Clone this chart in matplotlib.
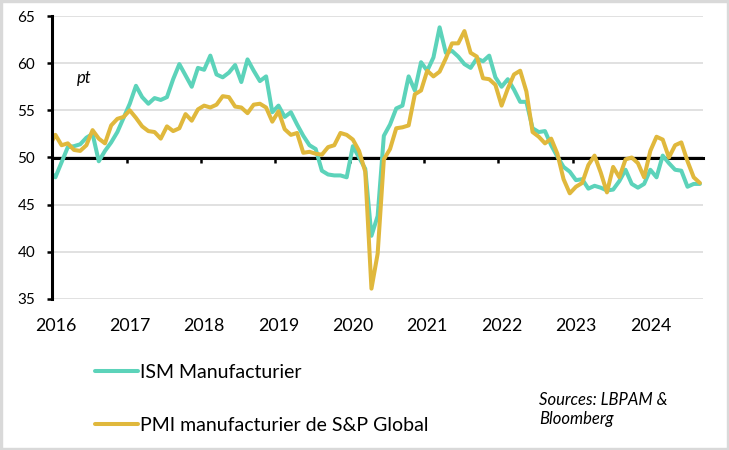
import numpy as np
import matplotlib
matplotlib.use('Agg')
import matplotlib.pyplot as plt
from matplotlib.lines import Line2D
from matplotlib.patches import Rectangle

# ---- data (monthly, Dec 2015 -> Sep 2024) ----
years = ['2016', '2017', '2018', '2019', '2020', '2021', '2022', '2023', '2024']
series_names = ['ISM Manufacturier', 'PMI manufacturier de S&P Global']

ism = [48.6,
       47.9, 49.5, 51.1, 51.2, 51.4, 52.1, 52.5, 49.6, 50.7, 51.6, 52.7, 54.2,
       55.7, 57.6, 56.4, 55.7, 56.3, 56.1, 56.4, 58.3, 59.9, 58.7, 57.5, 59.5,
       59.3, 60.8, 58.8, 58.5, 59.0, 59.8, 58.0, 60.4, 59.2, 58.1, 58.6, 54.8,
       55.5, 54.3, 54.8, 53.5, 52.3, 51.3, 50.9, 48.6, 48.2, 48.1, 48.1, 47.9,
       51.2, 50.0, 48.8, 41.7, 43.8, 52.3, 53.5, 55.2, 55.5, 58.6, 57.1, 60.1,
       59.2, 60.6, 63.8, 61.1, 61.3, 60.7, 59.9, 59.5, 60.5, 60.2, 60.8, 58.5,
       57.5, 58.3, 57.2, 55.9, 55.9, 53.1, 52.7, 52.8, 51.3, 50.1, 49.0, 48.5,
       47.6, 47.7, 46.7, 47.0, 46.8, 46.5, 46.6, 47.5, 48.7, 47.2, 46.8, 47.2,
       48.7, 47.9, 50.2, 49.4, 48.7, 48.6, 46.9, 47.2, 47.2]

pmi = [51.2,
       52.4, 51.3, 51.5, 50.8, 50.7, 51.3, 52.9, 52.0, 51.5, 53.4, 54.1, 54.3,
       55.0, 54.2, 53.3, 52.8, 52.7, 52.0, 53.3, 52.8, 53.1, 54.6, 53.9, 55.1,
       55.5, 55.3, 55.6, 56.5, 56.4, 55.4, 55.3, 54.7, 55.6, 55.7, 55.3, 53.8,
       54.9, 53.0, 52.4, 52.6, 50.5, 50.6, 50.4, 50.3, 51.1, 51.3, 52.6, 52.4,
       51.9, 50.7, 48.5, 36.1, 39.8, 49.8, 50.9, 53.1, 53.2, 53.4, 56.7, 57.1,
       59.2, 58.6, 59.1, 60.5, 62.1, 62.1, 63.4, 61.1, 60.7, 58.4, 58.3, 57.7,
       55.5, 57.3, 58.8, 59.2, 57.0, 52.7, 52.2, 51.5, 52.0, 50.4, 47.7, 46.2,
       46.9, 47.3, 49.2, 50.2, 48.4, 46.3, 49.0, 47.9, 49.8, 50.0, 49.4, 47.9,
       50.7, 52.2, 51.9, 50.0, 51.3, 51.6, 49.6, 47.9, 47.3]

teal = '#5CD3BA'
gold = '#E0B83C'

plt.rcParams['font.family'] = ['Lato', 'DejaVu Sans']

W, H = 729, 450
fig = plt.figure(figsize=(W / 100, H / 100), dpi=100)
ax = fig.add_axes([52.3 / W, 1 - 299 / H, (703 - 52.3) / W, 283 / H])

# month centres: Dec 2015 at -0.5, Jan 2016 at 0.5, ...
x = np.arange(len(ism)) - 0.5
ax.plot(x, ism, color=teal, lw=2.9, solid_joinstyle='round', solid_capstyle='round', zorder=3)
ax.plot(x, pmi, color=gold, lw=2.9, solid_joinstyle='round', solid_capstyle='round', zorder=3.1)

ax.set_xlim(0, len(ism) - 1)
ax.set_ylim(35, 65)
ax.set_yticks(np.arange(35, 66, 5))
ax.yaxis.grid(True, color='#D9D9D9', lw=1.1)
ax.set_axisbelow(True)

for s in ['top', 'right']:
    ax.spines[s].set_visible(False)
ax.spines['left'].set_linewidth(2.2)
ax.spines['left'].set_zorder(4)
ax.spines['bottom'].set_position(('data', 50))
ax.spines['bottom'].set_linewidth(2.2)
ax.spines['bottom'].set_zorder(2.5)

ax.tick_params(axis='y', direction='out', length=3.6, width=1.8, labelsize=11, pad=8.6)
xt = np.arange(len(years)) * 12
ax.set_xticks(xt)
ax.tick_params(axis='x', direction='out', length=3.6, width=1.8, labelbottom=False)

# year labels sit at the bottom of the plot, centred half a month right of the tick
sec = ax.secondary_xaxis(0.0, functions=(lambda v: v - 0.5, lambda v: v + 0.5))
sec.set_xticks(xt, labels=years)
sec.tick_params(length=0, pad=14, labelsize=12.8)
sec.spines['bottom'].set_visible(False)

ax.text(0.049, 0.781, 'pt', transform=ax.transAxes, style='italic', fontsize=12,
        ha='center', va='center')

handles = [Line2D([], [], color=teal, lw=2.9, solid_capstyle='round'),
           Line2D([], [], color=gold, lw=2.9, solid_capstyle='round')]
fig.legend(handles, series_names, loc='upper left', bbox_to_anchor=(95 / W, 1 - 364 / H),
           frameon=False, fontsize=14, handlelength=2.2, handletextpad=0.12,
           labelspacing=1.85, borderpad=0, borderaxespad=0)

fig.text(539 / W, 1 - 392 / H, 'Sources: LBPAM &\nBloomberg', style='italic', fontsize=12,
         ha='left', va='top', linespacing=1.2)

fig.add_artist(Rectangle((0, 0), 1, 1, transform=fig.transFigure, fill=False,
                         edgecolor='#D9D9D9', lw=3.9))

fig.savefig('out.png', dpi=100)
